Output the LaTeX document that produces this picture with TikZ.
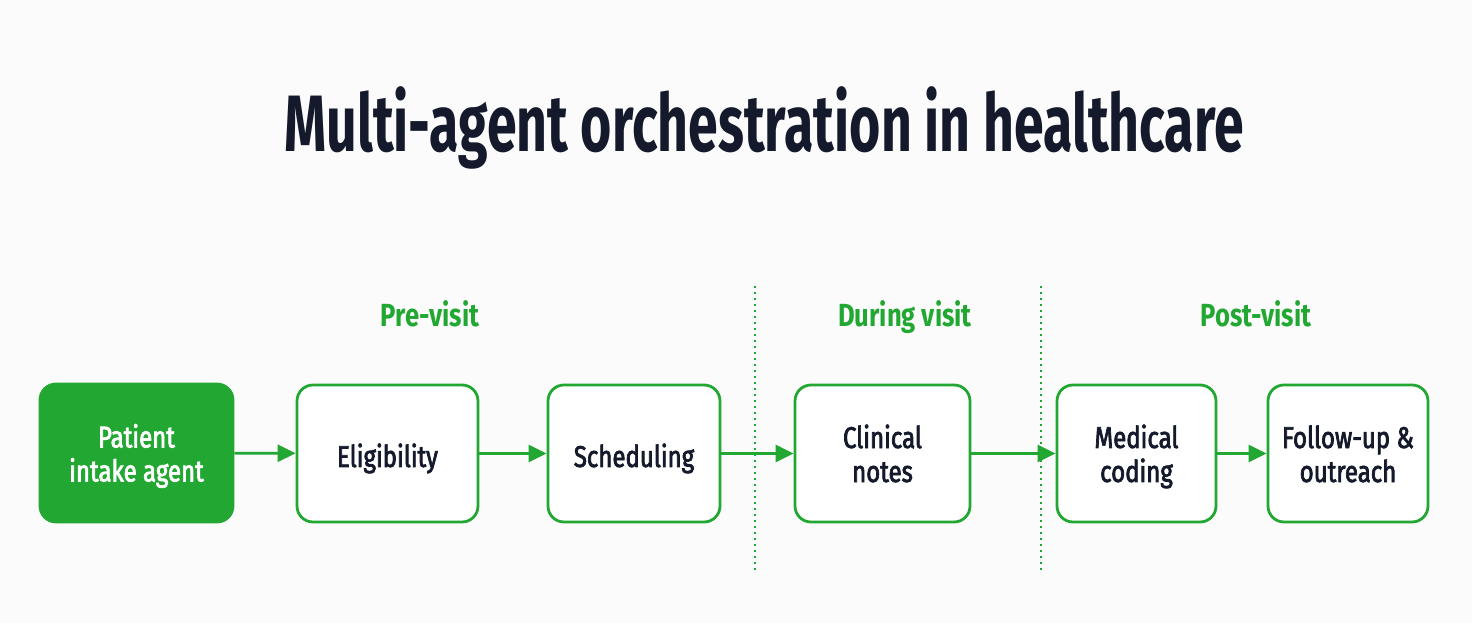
\documentclass[tikz,border=0pt]{standalone}
\usepackage{fontspec}
\setmainfont{Fira Sans}
\newfontfamily\titlefont[FakeStretch=0.67]{Fira Sans Bold}
\newfontfamily\headfont[FakeStretch=0.80]{Fira Sans Bold}
\newfontfamily\boxfont[FakeStretch=0.80,FakeBold=2.4]{Fira Sans}
\usetikzlibrary{arrows.meta}
\definecolor{gr}{HTML}{22A832}
\definecolor{ink}{HTML}{141A2B}
\definecolor{bg}{HTML}{FBFBFB}
\newcommand\bxtop[1]{\rule{0pt}{#1pt}}
\newcommand\bxbot{\rule[-6.3pt]{0pt}{6.3pt}}
\tikzset{
  agent/.style={draw=gr, line width=2.8pt, rounded corners=16pt, fill=white,
    minimum height=137pt, align=center, text=ink,
    font=\boxfont\fontsize{30}{34}\selectfont, inner sep=0pt},
  flow/.style={draw=gr, line width=2.6pt, -{Triangle[length=18pt,width=17pt]}},
  phase/.style={text=gr, anchor=base, font=\headfont\fontsize{32}{36}\selectfont},
  divider/.style={draw=gr, line width=1.8pt, dash pattern=on 1.8pt off 4.2pt}
}
\begin{document}
\begin{tikzpicture}[x=1pt,y=-1pt]
\fill[bg] (0,0) rectangle (1472,623);
\useasboundingbox (0,0) rectangle (1472,623);
\node[text=ink, anchor=base, font=\titlefont\fontsize{80}{90}\selectfont] (title) at (764,152) {Multi-agent orchestration in healthcare};
\node[phase] (pre) at (430,326) {Pre-visit};
\node[phase] (during) at (905,326) {During visit};
\node[phase] (post) at (1256,326) {Post-visit};
\coordinate (d1t) at (755,286);
\coordinate (d1b) at (755,570);
\coordinate (d2t) at (1041,286);
\coordinate (d2b) at (1041,570);
\draw[divider] (d1t) -- (d1b);
\draw[divider] (d2t) -- (d2b);
\node[agent, fill=gr, draw=gr, text=white, minimum width=193pt, minimum height=138pt] (intake) at (136.5,453) {\bxtop{29.3}Patient\\intake agent\bxbot};
\node[agent, minimum width=181pt] (elig) at (387.5,453.5) {\bxtop{33.3}Eligibility\bxbot};
\node[agent, minimum width=172pt] (sched) at (634,453.5) {\bxtop{33.3}Scheduling\bxbot};
\node[agent, minimum width=175pt] (notes) at (882.5,453.5) {\bxtop{29.3}Clinical\\notes\bxbot};
\node[agent, minimum width=159pt] (coding) at (1136.5,453.5) {\bxtop{29.3}Medical\\coding\bxbot};
\node[agent, minimum width=160pt] (follow) at (1348,453.5) {\bxtop{29.3}Follow-up \&\\outreach\bxbot};
\draw[flow] (intake) -- (elig);
\draw[flow] (elig) -- (sched);
\draw[flow] (sched) -- (notes);
\draw[flow] (notes) -- (coding);
\draw[flow] (coding) -- (follow);
\end{tikzpicture}
\end{document}
